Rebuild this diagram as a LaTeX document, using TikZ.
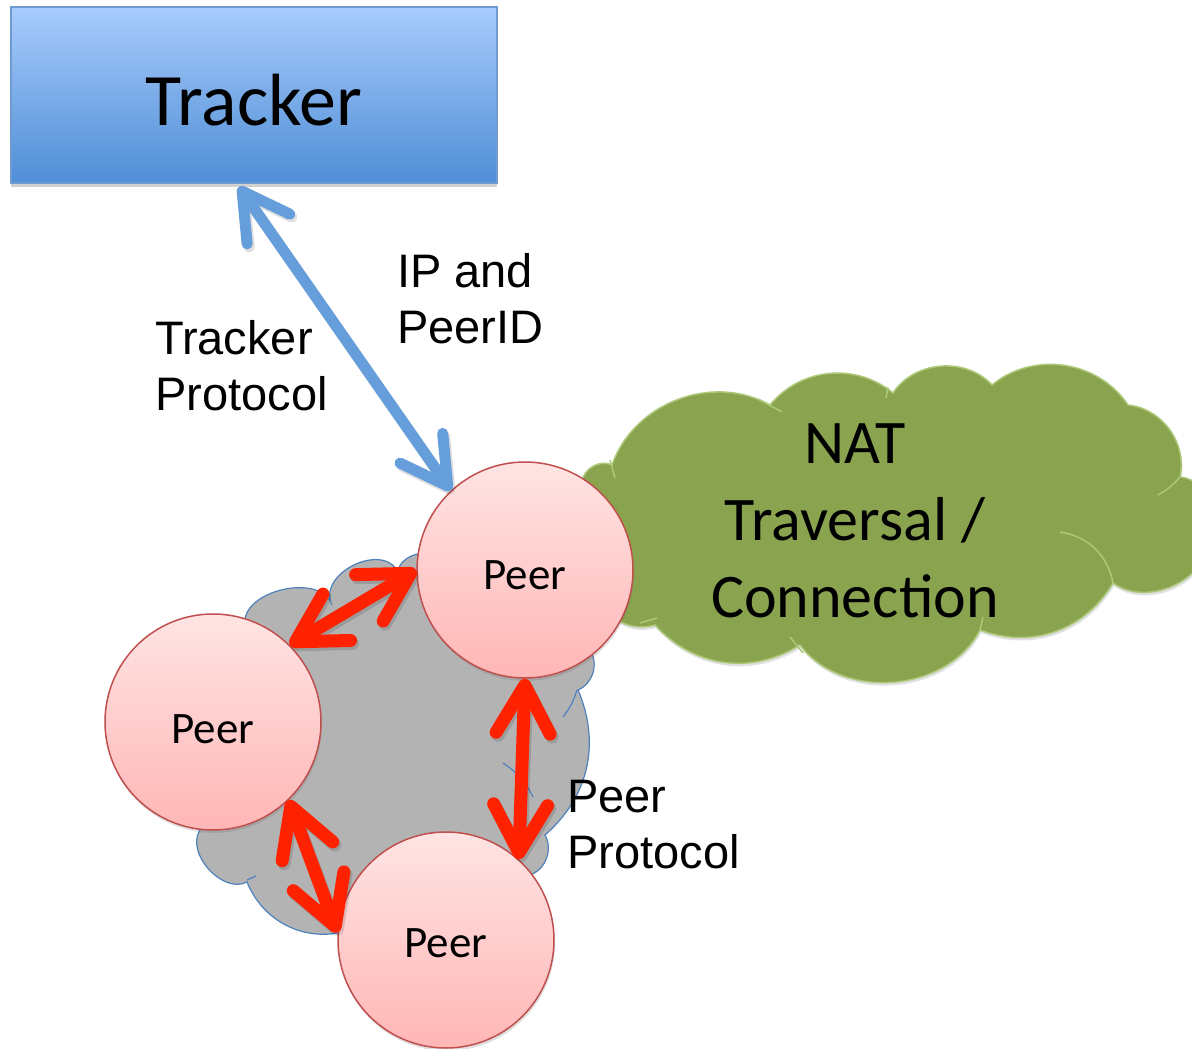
\documentclass[tikz,border=0pt]{standalone}
\usepackage{fontspec}
\setmainfont{Liberation Sans}
\newfontfamily\carlito{Carlito}
\usetikzlibrary{arrows.meta,shadows,calc}
\definecolor{trtop}{RGB}{168,203,252}
\definecolor{trbot}{RGB}{79,142,214}
\definecolor{trborder}{RGB}{110,155,210}
\definecolor{arrowblue}{RGB}{101,158,218}
\definecolor{peertop}{RGB}{255,228,228}
\definecolor{peerbot}{RGB}{255,182,182}
\definecolor{peerborder}{RGB}{192,80,77}
\definecolor{arrowred}{RGB}{255,34,0}
\definecolor{cloudgray}{RGB}{179,179,179}
\definecolor{cloudgrayline}{RGB}{79,129,189}
\definecolor{cloudgreen}{RGB}{137,163,78}
\definecolor{cloudgreenline}{RGB}{172,200,120}
\newcommand{\lowerby}[2]{\raisebox{-#1}[\height][\depth]{#2}}
\begin{document}
\begin{tikzpicture}[x=1pt,y=-1pt,
  trackerbox/.style={rectangle, draw=trborder, line width=1.5pt, top color=trtop, bottom color=trbot,
    minimum width=486pt, minimum height=176pt, inner sep=0pt,
    font=\carlito\fontsize{74}{88}\selectfont,
    drop shadow={shadow xshift=0pt, shadow yshift=-4pt, opacity=0.3, fill=black!60}},
  peernode/.style={circle, draw=peerborder, line width=1.5pt, top color=peertop, bottom color=peerbot,
    minimum size=216pt, inner sep=0pt, font=\carlito\fontsize{45}{54}\selectfont,
    drop shadow={shadow xshift=1pt, shadow yshift=-3pt, opacity=0.2, fill=black!60}},
  lbl/.style={align=left, inner sep=0pt, anchor=north west, font=\fontsize{47}{56}\selectfont},
  nattext/.style={align=center, inner sep=0pt, font=\carlito\fontsize{62}{77}\selectfont},
  bluearrow/.style={draw=arrowblue, line width=11pt,
    {Straight Barb[length=46pt,width=52pt,round]}-{Straight Barb[length=46pt,width=52pt,round]}},
  redarrow/.style={draw=arrowred, line width=13pt,
    {Straight Barb[length=48pt,width=54pt,round]}-{Straight Barb[length=48pt,width=54pt,round]}},
  arrowshadow/.style={draw=black, draw opacity=0.13, transform canvas={shift={(2pt,-3pt)}}},
  graycloud/.style={fill=cloudgray, draw=cloudgrayline, line width=1.2pt},
  greencloud/.style={fill=cloudgreen, draw=cloudgreenline, line width=1.5pt},
  greenseam/.style={draw=cloudgreenline, line width=1.5pt},
  grayseam/.style={draw=cloudgrayline, line width=1.2pt},
]
\useasboundingbox (0,0) rectangle (1192,1049);
\fill[white] (0,0) rectangle (1192,1049);

% green cloud (NAT traversal)
\path[greencloud, drop shadow={shadow xshift=1pt, shadow yshift=-3pt, opacity=0.2, fill=black!60}]
  (600,560) to[bend left=40] (582,482)
  to[bend left=55] (612,465)
  to[bend left=50] (770,405)
  to[bend left=45] (893,393)
  to[bend left=52] (992,385)
  to[bend left=48] (1128,405)
  to[bend left=48] (1180,477)
  to[bend left=60] (1210,540)
  to[bend left=60] (1113,583)
  to[bend left=40] (980,630)
  to[bend left=58] (800,645)
  to[bend left=40] (655,625)
  to[bend left=40] (600,600)
  -- cycle;
\draw[greenseam] (1060,532) to[bend left=35] (1113,583);
\draw[greenseam] (1180,477) to[bend left=10] (1158,495);
\draw[greenseam] (760,400) -- (782,412);
\draw[greenseam] (888,387) -- (886,398);
\draw[greenseam] (790,637) -- (803,653);
\draw[greenseam] (983,617) -- (980,630);
\draw[greenseam] (640,623) -- (657,618);
\draw[greenseam] (610,460) -- (615,478);
\node[nattext] (nat) at (855,521) {NAT\\Traversal /\\Connection};

% gray cloud (peer swarm)
\path[graycloud]
  (245,625) to[bend left=85] (332,605)
  to[bend left=90, looseness=1.2] (398,572)
  to[bend left=70] (440,560)
  to[bend left=40] (590,650)
  to[bend left=50] (578,690)
  to[bend left=36] (545,835)
  to[bend left=50] (530,875)
  to[bend left=40] (350,930)
  to[bend left=43] (247,882)
  to[bend left=75] (200,830)
  to[bend left=40] (170,760)
  to[bend left=40] (200,660)
  to[bend left=30] (245,625)
  -- cycle;
\draw[grayseam] (563,717) to[bend right=10] (577,690);
\draw[grayseam] (503,763) to[bend left=15] (533,797);
\draw[grayseam] (247,880) -- (256,876);

% tracker
\node[trackerbox] (tracker) at (254,95) {\lowerby{5pt}{Tracker}};

% peers
\node[peernode] (p1) at (525,570) {\lowerby{5pt}{Peer}};
\node[peernode] (p2) at (213,722) {\lowerby{7pt}{Peer}};
\node[peernode] (p3) at (446,940) {\lowerby{3pt}{Peer}};

% connectors
\coordinate (tb) at ($(tracker.south)+(-15,3)$);
\draw[bluearrow, arrowshadow] (tb) -- (p1.133);
\draw[bluearrow] (tb) -- (p1.133);
\draw[redarrow, arrowshadow] (p2.45) -- (p1.180);
\draw[redarrow, arrowshadow] (p1.270) -- (p3.48);
\draw[redarrow, arrowshadow] (p2.-46) -- (p3.176);
\draw[redarrow] (p2.45) -- (p1.180);
\draw[redarrow] (p1.270) -- (p3.48);
\draw[redarrow] (p2.-46) -- (p3.176);

% labels
\node[lbl] (ipl) at (397,253) {IP and\\PeerID};
\node[lbl] (tpl) at (155,320) {Tracker\\Protocol};
\node[lbl] (ppl) at (567,780) {Peer\\Protocol};
\end{tikzpicture}
\end{document}
